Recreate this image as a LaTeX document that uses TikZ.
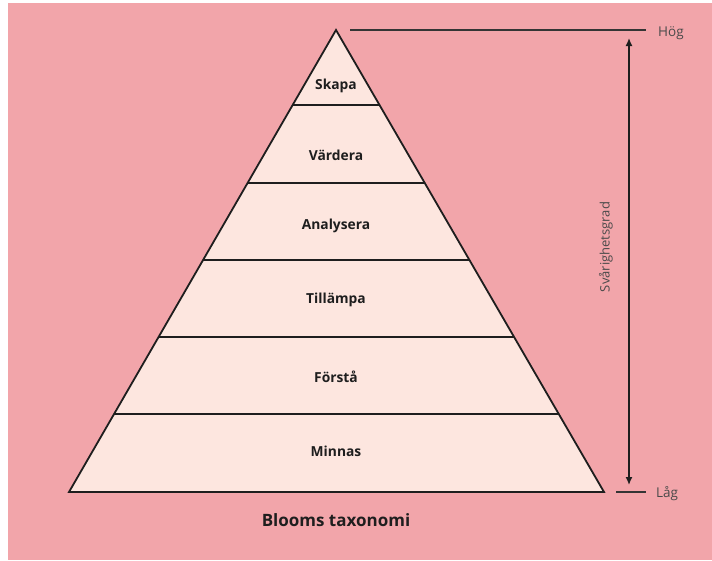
\documentclass[tikz,border=0pt]{standalone}
\usepackage{fontspec}
\setmainfont{Open Sans}
\usetikzlibrary{calc,arrows.meta}
\definecolor{bgpink}{HTML}{F2A5AA}
\definecolor{bandfill}{HTML}{FDE6DF}
\definecolor{inkdark}{HTML}{1E1E1E}
\definecolor{graytext}{HTML}{4A4A4A}
\tikzset{
  pyr/.style={draw=inkdark, line width=1.8pt, fill=bandfill, line join=miter},
  divider/.style={draw=inkdark, line width=1.5pt},
  lvl/.style={font=\fontsize{13.8}{16}\selectfont\bfseries, text=inkdark, inner sep=0pt},
  marker/.style={draw=graytext!70!black, line width=2.4pt},
  sidetext/.style={font=\fontsize{13.5}{16}\selectfont, text=graytext, inner sep=0pt, anchor=west},
  diffarrow/.style={draw=inkdark, line width=1.4pt, {Latex[length=8pt,width=7pt]}-{Latex[length=8pt,width=7pt]}},
}
\begin{document}
\begin{tikzpicture}[x=1pt,y=-1pt]
\useasboundingbox (0,0) rectangle (712,560);
\fill[white] (0,0) rectangle (712,560);
\fill[bgpink] (8,3) rectangle (712,560);
\coordinate (apex) at (336,30);
\coordinate (bl) at (69,492);
\coordinate (br) at (604,492);
\draw[pyr] (apex) -- (bl) -- (br) -- cycle;
\foreach \yy/\nm in {105/a,183/b,260/c,337/d,414/e}{
  \pgfmathsetmacro{\t}{(\yy-30)/462}
  \coordinate (L\nm) at ($(apex)!\t!(bl)$);
  \coordinate (R\nm) at ($(apex)!\t!(br)$);
  \draw[divider] (L\nm) -- (R\nm);
}
\node[lvl] (skapa) at (336,86) {Skapa};
\node[lvl] (vardera) at (336,155) {Värdera};
\node[lvl] (analysera) at (336,226) {Analysera};
\node[lvl] (tillampa) at (336,300) {Tillämpa};
\node[lvl] (forsta) at (336,377) {Förstå};
\node[lvl] (minnas) at (336,451) {Minnas};
% high / low markers
\coordinate (hogL) at (350,30);
\coordinate (hogR) at (646,30);
\draw[marker] (hogL) -- (hogR);
\node[sidetext] (hog) at (658,33) {Hög};
\coordinate (lagL) at (616,492);
\coordinate (lagR) at (646,492);
\draw[marker, line width=1.8pt] (lagL) -- (lagR);
\node[sidetext] (lag) at (656,494) {Låg};
\coordinate (arrTop) at (629,38);
\coordinate (arrBot) at (629,485);
\draw[diffarrow] (arrBot) -- (arrTop);
\node[font=\fontsize{13}{15}\selectfont, text=graytext, rotate=90, inner sep=0pt] (svar) at (606,247) {Svårighetsgrad};
\node[font=\fontsize{17}{20}\selectfont\bfseries, text=inkdark, inner sep=0pt] (title) at (336,520) {Blooms taxonomi};
\end{tikzpicture}
\end{document}
